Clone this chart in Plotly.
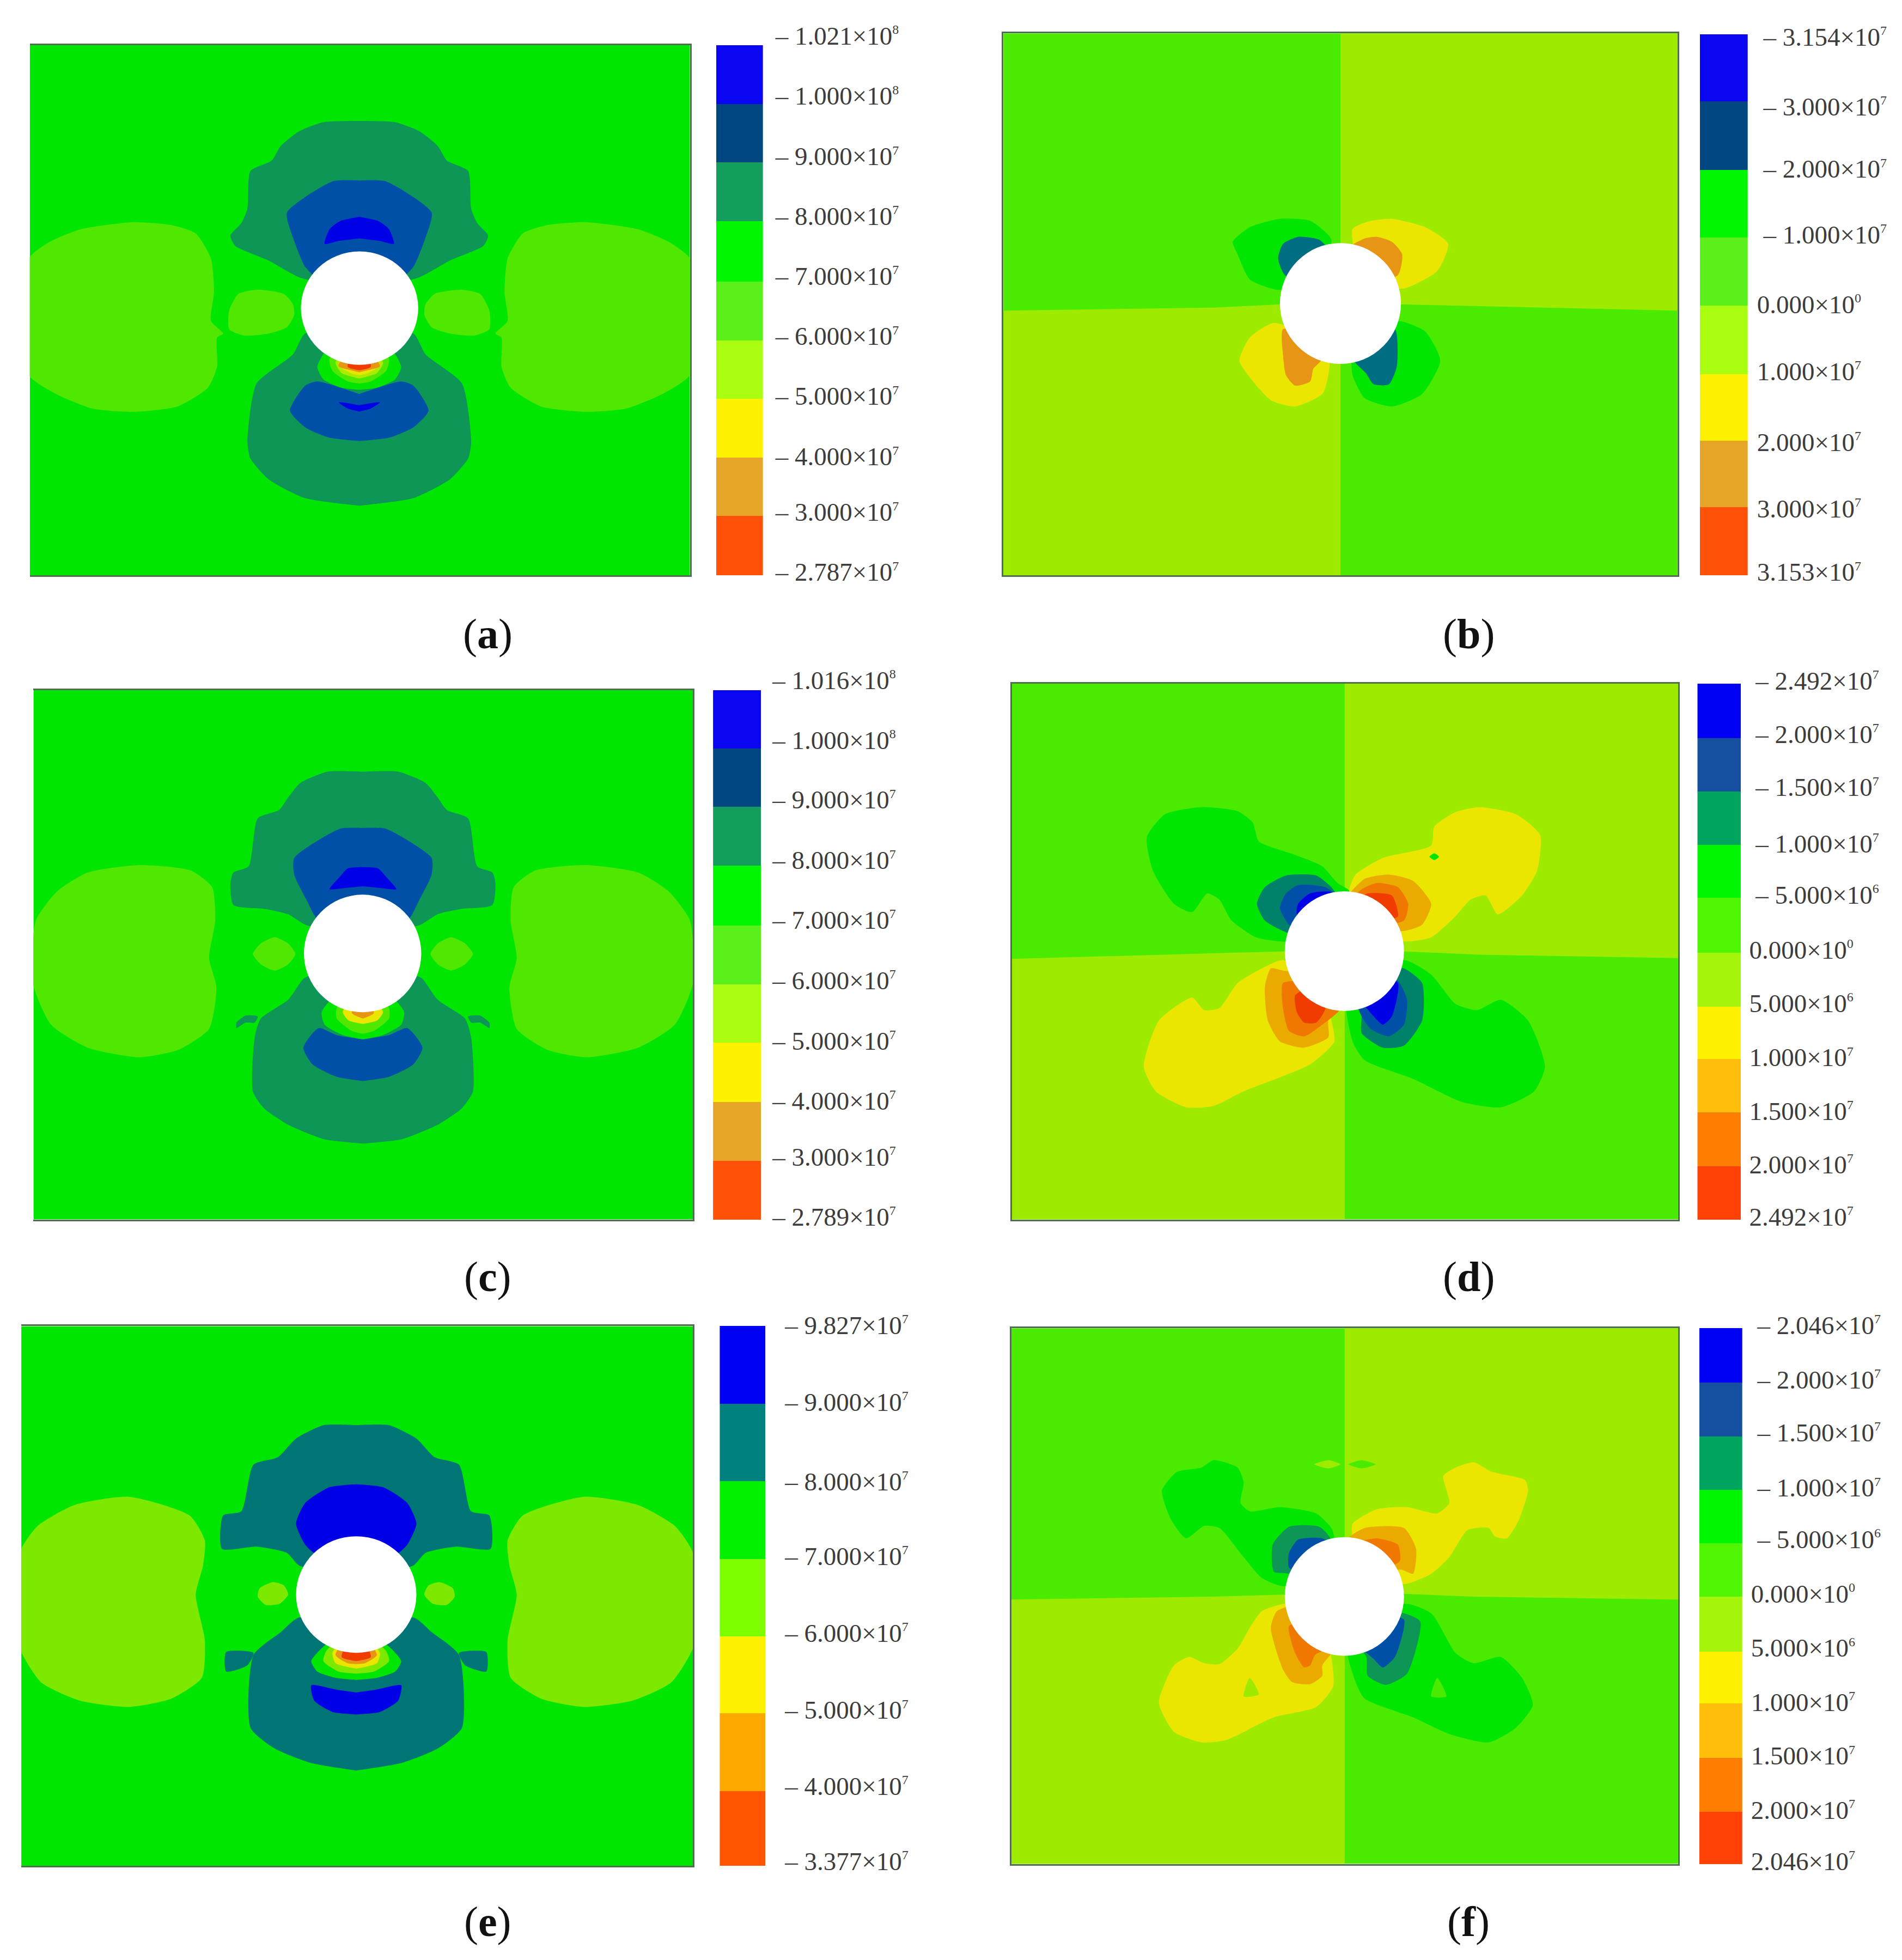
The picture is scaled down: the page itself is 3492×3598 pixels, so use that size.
'''

    Six FE stress contour panels with stepped legends

'''
import plotly.graph_objects as go

FONT = 'Liberation Serif'

# colours
BG_GREEN = '#00E600'
LOBE = '#50E800'
LOBE_E = '#7DE800'
QUAD_DARK = '#4BEB00'
QUAD_LIGHT = '#9EEB00'
TEAL = '#0E9656'
TEAL_E = '#007575'
TEAL_B = '#006E82'
TEAL_D = '#00826A'
BLUE = '#0050A8'
PURE = '#0000E6'
LIME = '#AAEB00'
YELLOW = '#EBE600'
ORANGE_L = '#EBAA00'
ORANGE = '#E69614'
ORANGE_D = '#F07800'
RED = '#F03C00'

# legend colours, top to bottom
BAR_9 = ['#0A05F0', '#004680', '#149E5E', '#00F500', '#5CF01A', '#AAFF10', '#FFF200', '#E5A526', '#FF5208']
BAR_8 = ['#0A05F0', '#004680', '#00F500', '#5CF01A', '#AAFF10', '#FFF200', '#E5A526', '#FF5208']
BAR_7 = ['#0000F5', '#00807F', '#00F000', '#7DFF00', '#FFF200', '#FFA800', '#FF5500']
BAR_10 = ['#0000F5', '#14509F', '#00A55F', '#00F500', '#50F500', '#A5F50A', '#FFF200', '#FFBE0A', '#FF7D00', '#FF4105']


def sci(m, e):
    return '%s×10<sup><span style="font-size:24px">%d</span></sup>' % (m, e)


# legend texts and where they sit, edges of the steps
A_LABELS = [sci('1.021', 8), sci('1.000', 8), sci('9.000', 7), sci('8.000', 7), sci('7.000', 7),
            sci('6.000', 7), sci('5.000', 7), sci('4.000', 7), sci('3.000', 7), sci('2.787', 7)]
A_LABEL_Y = [85, 230, 375, 518, 662, 806, 950, 1095, 1228, 1372]
A_EDGES = [108, 250, 390, 530, 675, 817, 957, 1098, 1238, 1380]

B_LABELS = [sci('3.154', 7), sci('3.000', 7), sci('2.000', 7), sci('1.000', 7), sci('0.000', 0),
            sci('1.000', 7), sci('2.000', 7), sci('3.000', 7), sci('3.153', 7)]
B_LABEL_Y = [88, 255, 405, 562, 730, 890, 1060, 1220, 1372]
B_EDGES = [82, 243, 408, 570, 733, 898, 1057, 1217, 1380]

C_LABELS = [sci('1.016', 8), sci('1.000', 8), sci('9.000', 7), sci('8.000', 7), sci('7.000', 7),
            sci('6.000', 7), sci('5.000', 7), sci('4.000', 7), sci('3.000', 7), sci('2.789', 7)]
C_LABEL_Y = [63, 207, 350, 495, 638, 783, 928, 1072, 1207, 1350]
C_EDGES = [87, 228, 367, 508, 652, 793, 933, 1075, 1217, 1357]

D_LABELS = [sci('2.492', 7), sci('2.000', 7), sci('1.500', 7), sci('1.000', 7), sci('5.000', 6),
            sci('0.000', 0), sci('5.000', 6), sci('1.000', 7), sci('1.500', 7), sci('2.000', 7), sci('2.492', 7)]
D_LABEL_Y = [65, 193, 320, 455, 578, 710, 838, 968, 1097, 1225, 1350]
D_EDGES = [72, 203, 330, 458, 585, 717, 847, 972, 1100, 1230, 1357]

E_LABELS = [sci('9.827', 7), sci('9.000', 7), sci('8.000', 7), sci('7.000', 7),
            sci('6.000', 7), sci('5.000', 7), sci('4.000', 7), sci('3.377', 7)]
E_LABEL_Y = [42, 227, 418, 597, 782, 967, 1150, 1330]
E_EDGES = [45, 232, 418, 605, 790, 975, 1162, 1342]

F_LABELS = [sci('2.046', 7), sci('2.000', 7), sci('1.500', 7), sci('1.000', 7), sci('5.000', 6),
            sci('0.000', 0), sci('5.000', 6), sci('1.000', 7), sci('1.500', 7), sci('2.000', 7), sci('2.046', 7)]
F_LABEL_Y = [42, 173, 300, 433, 557, 688, 818, 948, 1077, 1207, 1330]
F_EDGES = [50, 180, 310, 438, 567, 695, 827, 952, 1082, 1212, 1337]

# contour outlines (half outlines get mirrored about the hole axis)
A_TOP = [(591, 290), (650, 293), (690, 315), (720, 350), (735, 385), (770, 410), (775, 500), (785, 535), (803, 565), (795, 590), (740, 625), (690, 665), (591, 700)]
A_TOP_BLUE = [(591, 433), (635, 435), (710, 510), (700, 570), (680, 640), (650, 680), (591, 690)]
A_TOP_PURE = [(591, 520), (622, 530), (640, 550), (648, 585), (625, 578), (591, 572)]
A_BOT = [(591, 800), (680, 800), (700, 850), (760, 920), (775, 1060), (770, 1100), (740, 1150), (680, 1195), (591, 1213)]
A_BOT_BLUE = [(591, 945), (660, 915), (680, 925), (705, 985), (680, 1025), (640, 1050), (591, 1058)]
A_BOT_PURE = [(591, 972), (625, 965), (610, 980), (591, 987)]
A_RING1 = [(591, 800), (645, 840), (660, 880), (650, 910), (620, 930), (591, 935)]
A_RING2 = [(591, 800), (640, 860), (635, 890), (610, 915), (591, 920)]
A_RING3 = [(591, 800), (630, 870), (620, 895), (591, 908)]
A_RING4 = [(591, 800), (625, 875), (605, 895), (591, 900)]
A_RING5 = [(591, 800), (625, 878), (605, 888), (591, 893)]
A_RING6 = [(591, 800), (610, 880), (591, 888)]
A_LOBE = [(965, 533), (1050, 550), (1100, 580), (1135, 620), (1150, 760), (1135, 900), (1090, 945), (1030, 980), (965, 988), (890, 975), (840, 930), (825, 880), (825, 810), (815, 800), (835, 770), (830, 700), (835, 620), (860, 560), (900, 540)]
A_SMALL = [(700, 730), (715, 705), (760, 695), (790, 705), (805, 745), (805, 790), (780, 805), (740, 800), (710, 785), (698, 755)]

C_TOP = [(597, 283), (655, 283), (700, 310), (720, 345), (735, 375), (770, 395), (785, 510), (810, 525), (815, 550), (810, 603), (760, 612), (720, 625), (692, 650), (597, 680)]
C_TOP_BLUE = [(597, 418), (635, 420), (710, 490), (710, 530), (690, 590), (670, 640), (597, 650)]
C_TOP_PURE = [(597, 512), (622, 515), (635, 535), (652, 565), (625, 562), (597, 558)]
C_BOT = [(597, 780), (680, 770), (695, 780), (720, 830), (765, 875), (775, 920), (778, 1050), (760, 1090), (720, 1130), (660, 1165), (597, 1175)]
C_BOT_BLUE = [(597, 925), (640, 915), (670, 898), (695, 945), (680, 985), (640, 1015), (597, 1025)]
C_RING1 = [(597, 780), (650, 830), (665, 860), (660, 890), (630, 915), (597, 925)]
C_RING2 = [(597, 780), (640, 850), (640, 875), (615, 905), (597, 912)]
C_RING3 = [(597, 780), (630, 860), (620, 880), (597, 888)]
C_RING4 = [(597, 780), (615, 862), (597, 875)]
C_TAB = [(770, 870), (790, 868), (805, 885), (805, 898), (790, 885), (775, 885)]
C_LOBE = [(965, 507), (1050, 525), (1100, 570), (1135, 640), (1140, 790), (1110, 890), (1050, 945), (965, 968), (900, 950), (850, 900), (838, 800), (850, 730), (840, 640), (845, 560), (880, 520)]
C_SMALL = [(742, 680), (765, 695), (778, 720), (765, 745), (742, 760), (720, 745), (708, 720), (720, 695)]

E_TOP = [(586, 283), (640, 283), (685, 315), (715, 360), (755, 378), (775, 490), (805, 500), (807, 580), (750, 575), (700, 590), (680, 620), (586, 650)]
E_TOP_BLUE = [(586, 425), (630, 432), (670, 470), (685, 520), (670, 570), (655, 590), (586, 600)]
E_BOT = [(586, 780), (680, 745), (710, 780), (755, 835), (760, 1010), (720, 1060), (660, 1095), (586, 1113)]
E_TAB = [(755, 830), (800, 828), (800, 875), (765, 860)]
E_RING1 = [(586, 760), (640, 815), (660, 850), (650, 875), (620, 890), (586, 895)]
E_RING2 = [(586, 760), (635, 825), (640, 850), (615, 875), (586, 880)]
E_RING3 = [(586, 760), (625, 830), (620, 855), (586, 868)]
E_RING4 = [(586, 760), (620, 835), (600, 855), (586, 857)]
E_RING5 = [(586, 760), (610, 840), (586, 850)]
E_BOT_BLUE = [(586, 925), (620, 918), (660, 908), (655, 945), (625, 972), (586, 978)]
E_LOBE = [(960, 455), (1050, 475), (1110, 525), (1140, 590), (1145, 800), (1105, 900), (1040, 945), (960, 960), (890, 940), (840, 890), (835, 800), (850, 690), (838, 620), (835, 560), (860, 500)]
E_SMALL = [(723, 660), (745, 675), (748, 695), (735, 715), (712, 712), (698, 690), (705, 668)]

B_UR = [(640, 80), (1197, 80), (1197, 745), (980, 738), (740, 730), (640, 728)]
B_LL = [(83, 745), (430, 738), (540, 730), (640, 728), (640, 1380), (83, 1380)]
B_UL_GREEN = [(540, 525), (590, 530), (625, 575), (600, 680), (535, 695), (490, 670), (470, 610), (462, 580), (490, 545)]
B_UL_TEAL = [(570, 568), (605, 575), (620, 600), (600, 690), (548, 660), (537, 620), (545, 585)]
B_UR_YELLOW = [(725, 525), (780, 545), (818, 585), (800, 650), (745, 692), (680, 680), (660, 550), (690, 530)]
B_UR_ORANGE = [(700, 568), (725, 580), (742, 610), (735, 660), (680, 680), (650, 600), (680, 572)]
B_LL_YELLOW = [(530, 775), (620, 830), (620, 900), (610, 945), (565, 975), (525, 960), (490, 905), (473, 865), (490, 810)]
B_LL_ORANGE = [(545, 790), (600, 800), (610, 860), (595, 885), (590, 915), (565, 925), (550, 900), (545, 850)]
B_LR_GREEN = [(735, 770), (780, 795), (805, 865), (775, 945), (725, 975), (680, 955), (660, 900), (660, 850), (700, 800)]
B_LR_TEAL = [(730, 790), (733, 880), (720, 922), (695, 922), (682, 895), (660, 860), (680, 800)]

D_UR = [(647, 72), (1198, 72), (1198, 730), (870, 722), (745, 714), (647, 714)]
D_LL = [(97, 732), (450, 718), (547, 714), (647, 714), (647, 1357), (97, 1357)]
D_UL_GREEN = [(410, 368), (470, 378), (495, 405), (505, 450), (560, 480), (610, 510), (635, 550), (655, 570), (600, 690), (540, 690), (500, 680), (460, 640), (440, 590), (420, 575), (395, 620), (365, 600), (330, 520), (320, 440), (350, 385)]
D_UL_TEAL = [(550, 532), (600, 532), (625, 560), (640, 600), (580, 680), (545, 665), (515, 640), (502, 600), (515, 560)]
D_UL_BLUE = [(570, 555), (615, 560), (640, 590), (590, 670), (555, 650), (540, 610), (550, 575)]
D_UL_PURE = [(590, 575), (625, 572), (640, 600), (590, 650), (568, 625), (570, 600)]
D_UR_YELLOW = [(870, 368), (930, 385), (970, 435), (965, 520), (940, 580), (900, 625), (880, 580), (855, 590), (830, 630), (790, 680), (745, 690), (700, 660), (655, 570), (665, 530), (710, 490), (790, 460), (795, 415), (830, 380)]
D_UR_DOT = [(795, 479), (803, 487), (795, 495), (787, 487)]
D_UR_ORANGE1 = [(720, 530), (760, 545), (790, 600), (775, 650), (745, 665), (700, 660), (650, 590), (680, 540)]
D_UR_ORANGE2 = [(700, 550), (735, 560), (752, 600), (745, 640), (700, 650), (660, 590), (675, 565)]
D_UR_RED = [(685, 575), (725, 580), (735, 630), (700, 640), (660, 600)]
D_LL_YELLOW = [(385, 1088), (430, 1085), (480, 1050), (590, 985), (630, 930), (625, 880), (620, 840), (590, 780), (545, 735), (510, 755), (470, 790), (440, 850), (415, 855), (395, 825), (340, 880), (315, 990), (335, 1050)]
D_LL_ORANGE1 = [(525, 755), (545, 760), (600, 770), (640, 850), (620, 880), (620, 920), (580, 945), (540, 930), (520, 880), (515, 800)]
D_LL_ORANGE2 = [(545, 790), (600, 790), (640, 850), (610, 890), (580, 918), (555, 905), (545, 850)]
D_LL_RED = [(565, 820), (590, 800), (615, 850), (600, 885), (580, 885), (568, 860)]
D_LR_GREEN = [(745, 735), (790, 770), (830, 840), (865, 855), (905, 830), (950, 880), (978, 990), (960, 1050), (905, 1088), (840, 1075), (760, 1020), (680, 975), (660, 930), (650, 800)]
D_LR_TEAL = [(745, 755), (775, 790), (775, 880), (745, 940), (710, 945), (675, 910), (675, 860), (660, 800), (700, 750)]
D_LR_BLUE = [(735, 785), (750, 830), (745, 890), (720, 918), (690, 900), (675, 870), (660, 800), (700, 770)]
D_LR_PURE = [(735, 790), (725, 870), (710, 890), (695, 870), (665, 810), (700, 770)]

F_UR = [(647, 50), (1198, 50), (1198, 702), (860, 695), (745, 688), (647, 690)]
F_LL = [(96, 702), (430, 695), (548, 690), (647, 690), (647, 1337), (96, 1337)]
F_UL_GREEN = [(430, 367), (470, 385), (480, 420), (475, 470), (490, 490), (540, 480), (600, 495), (625, 530), (630, 555), (610, 640), (545, 670), (510, 650), (480, 600), (440, 530), (415, 525), (385, 555), (360, 510), (345, 440), (370, 395), (410, 385)]
F_UL_TEAL = [(555, 527), (605, 527), (625, 560), (600, 680), (555, 640), (530, 635), (528, 570)]
F_UL_BLUE = [(570, 558), (610, 555), (630, 580), (590, 650), (555, 625), (555, 590)]
F_UR_YELLOW = [(860, 372), (890, 395), (945, 415), (950, 440), (935, 510), (915, 555), (895, 550), (885, 530), (850, 535), (820, 600), (790, 640), (745, 665), (700, 640), (660, 550), (660, 520), (700, 485), (750, 480), (800, 495), (820, 470), (810, 405), (830, 385)]
F_UR_ORANGE1 = [(680, 530), (745, 530), (765, 580), (760, 640), (740, 630), (680, 640), (650, 560)]
F_UR_ORANGE2 = [(700, 555), (735, 570), (738, 610), (700, 630), (660, 570)]
F_LL_YELLOW = [(410, 1045), (450, 1040), (530, 985), (600, 960), (628, 910), (620, 800), (600, 720), (548, 712), (510, 730), (490, 770), (470, 820), (440, 857), (415, 855), (390, 840), (365, 860), (340, 950), (365, 1020)]
F_LL_SPOT = [(490, 890), (505, 930), (480, 935)]
F_LL_ORANGE1 = [(535, 730), (590, 710), (640, 800), (610, 860), (610, 885), (590, 905), (560, 900), (545, 870), (525, 770)]
F_LL_ORANGE2 = [(555, 765), (600, 760), (630, 810), (598, 835), (590, 860), (580, 865), (565, 830)]
F_LR_GREEN = [(745, 712), (790, 735), (830, 830), (860, 855), (905, 840), (940, 890), (958, 955), (930, 1010), (885, 1045), (820, 1025), (760, 985), (680, 940), (665, 900), (650, 800)]
F_LR_SPOT = [(800, 890), (815, 935), (790, 935)]
F_LR_TEAL = [(745, 735), (772, 755), (750, 880), (715, 907), (685, 885), (683, 840), (660, 790), (700, 730)]
F_LR_BLUE = [(745, 750), (730, 840), (710, 865), (695, 845), (665, 800), (700, 740)]
F_TOP_SPOT1 = [(620, 367), (640, 377), (620, 387), (597, 377)]
F_TOP_SPOT2 = [(675, 367), (698, 377), (675, 387), (653, 377)]


def mirror(half, cx):
    return half + [(2 * cx - x, y) for x, y in reversed(half)]


def flip(pts, cx):
    return [(2 * cx - x, y) for x, y in pts]


def stress_regions(cx, top, top_blue, top_pure, bot, bot_blue, bot_pure, rings, lobe, small, extra, teal, lobe_col, blue):
    regs = [(lobe_col, lobe), (lobe_col, flip(lobe, cx)), (lobe_col, small), (lobe_col, flip(small, cx)),
            (teal, mirror(top, cx)), (teal, mirror(bot, cx))]
    for e in extra:
        regs += [(teal, e), (teal, flip(e, cx))]
    regs += [(blue, mirror(top_blue, cx))]
    if top_pure:
        regs += [(PURE, mirror(top_pure, cx))]
    regs += [(blue, mirror(bot_blue, cx))]
    if bot_pure:
        regs += [(PURE, mirror(bot_pure, cx))]
    for col, ring in rings:
        regs += [(col, mirror(ring, cx))]
    return regs


A_REGIONS = stress_regions(591, A_TOP, A_TOP_BLUE, A_TOP_PURE, A_BOT, A_BOT_BLUE, A_BOT_PURE,
                           [(BG_GREEN, A_RING1), (LOBE, A_RING2), (LIME, A_RING3), (YELLOW, A_RING4), (ORANGE, A_RING5), (RED, A_RING6)],
                           A_LOBE, A_SMALL, [], TEAL, LOBE, BLUE)
C_REGIONS = stress_regions(597, C_TOP, C_TOP_BLUE, C_TOP_PURE, C_BOT, C_BOT_BLUE, None,
                           [(BG_GREEN, C_RING1), (LOBE, C_RING2), (YELLOW, C_RING3), (ORANGE, C_RING4)],
                           C_LOBE, C_SMALL, [C_TAB], TEAL, LOBE, BLUE)
E_REGIONS = stress_regions(586, E_TOP, E_TOP_BLUE, None, E_BOT, E_BOT_BLUE, None,
                           [(BG_GREEN, E_RING1), (LOBE_E, E_RING2), (YELLOW, E_RING3), (ORANGE, E_RING4), (RED, E_RING5)],
                           E_LOBE, E_SMALL, [E_TAB], TEAL_E, LOBE_E, PURE)
B_REGIONS = [(BG_GREEN, B_UL_GREEN), (TEAL_B, B_UL_TEAL), (YELLOW, B_UR_YELLOW), (ORANGE, B_UR_ORANGE),
             (YELLOW, B_LL_YELLOW), (ORANGE, B_LL_ORANGE), (BG_GREEN, B_LR_GREEN), (TEAL_B, B_LR_TEAL)]
D_REGIONS = [(BG_GREEN, D_UL_GREEN), (TEAL_D, D_UL_TEAL), (BLUE, D_UL_BLUE), (PURE, D_UL_PURE),
             (YELLOW, D_UR_YELLOW), (BG_GREEN, D_UR_DOT), (ORANGE_L, D_UR_ORANGE1), (ORANGE_D, D_UR_ORANGE2), (RED, D_UR_RED),
             (YELLOW, D_LL_YELLOW), (ORANGE_L, D_LL_ORANGE1), (ORANGE_D, D_LL_ORANGE2), (RED, D_LL_RED),
             (BG_GREEN, D_LR_GREEN), (TEAL_D, D_LR_TEAL), (BLUE, D_LR_BLUE), (PURE, D_LR_PURE)]
F_REGIONS = [(QUAD_LIGHT, F_TOP_SPOT1), (QUAD_DARK, F_TOP_SPOT2),
             (BG_GREEN, F_UL_GREEN), (TEAL, F_UL_TEAL), (BLUE, F_UL_BLUE),
             (YELLOW, F_UR_YELLOW), (ORANGE_L, F_UR_ORANGE1), (ORANGE_D, F_UR_ORANGE2),
             (YELLOW, F_LL_YELLOW), (QUAD_LIGHT, F_LL_SPOT), (ORANGE_L, F_LL_ORANGE1), (ORANGE_D, F_LL_ORANGE2),
             (BG_GREEN, F_LR_GREEN), (QUAD_DARK, F_LR_SPOT), (TEAL, F_LR_TEAL), (BLUE, F_LR_BLUE)]

# the page keeps an 8px body margin, so the figure is smaller by that much
W, H = 3492, 3598
OFF = 8
READ = 1568.0  # picture units per crop side

# crop = x0, y0, w, h that the outlines were read in; plot = l, r, t, b; bar = l, r
panels = [
    dict(tag='a', crop=(0, 0, 1750, 1200), plot=(49, 1135, 108, 1380), bar=(1178, 1255), hole=(495, 688, 603, 875), base=BG_GREEN, quads=[],
         regions=A_REGIONS, colors=BAR_9, edges=A_EDGES, labels=A_LABELS, label_y=A_LABEL_Y, dashes=10, standoff=22, pad='', side=False, cap=(895, 1163)),
    dict(tag='b', crop=(1750, 0, 1742, 1200), plot=(83, 1197, 80, 1380), bar=(1234, 1313), hole=(540, 740, 583, 873), base=QUAD_DARK, quads=[B_UR, B_LL],
         regions=B_REGIONS, colors=BAR_8, edges=B_EDGES, labels=B_LABELS, label_y=B_LABEL_Y, dashes=4, standoff=16, pad='\u00a0', side=True, cap=(2696, 1163)),
    dict(tag='c', crop=(0, 1200, 1750, 1200), plot=(55, 1140, 87, 1357), bar=(1173, 1252), hole=(500, 693, 578, 860), base=BG_GREEN, quads=[],
         regions=C_REGIONS, colors=BAR_9, edges=C_EDGES, labels=C_LABELS, label_y=C_LABEL_Y, dashes=10, standoff=20, pad='', side=False, cap=(895, 2343)),
    dict(tag='d', crop=(1750, 1200, 1742, 1200), plot=(97, 1198, 72, 1357), bar=(1230, 1302), hole=(548, 745, 570, 857), base=QUAD_DARK, quads=[D_UR, D_LL],
         regions=D_REGIONS, colors=BAR_10, edges=D_EDGES, labels=D_LABELS, label_y=D_LABEL_Y, dashes=5, standoff=14, pad='\u00a0', side=True, cap=(2696, 2343)),
    dict(tag='e', crop=(0, 2400, 1750, 1198), plot=(35, 1140, 45, 1342), bar=(1184, 1259), hole=(487, 685, 550, 830), base=BG_GREEN, quads=[],
         regions=E_REGIONS, colors=BAR_7, edges=E_EDGES, labels=E_LABELS, label_y=E_LABEL_Y, dashes=8, standoff=35, pad='', side=False, cap=(895, 3527)),
    dict(tag='f', crop=(1750, 2400, 1742, 1198), plot=(96, 1198, 50, 1337), bar=(1233, 1304), hole=(548, 745, 552, 837), base=QUAD_DARK, quads=[F_UR, F_LL],
         regions=F_REGIONS, colors=BAR_10, edges=F_EDGES, labels=F_LABELS, label_y=F_LABEL_Y, dashes=5, standoff=15, pad='\u00a0', side=True, cap=(2696, 3527)),
]


def fx(px):
    return (px - OFF) / (W - OFF)


def fy(px):
    return 1 - (px - OFF) / (H - OFF)


def add_poly(fig, pts, color, n, smooth=True):
    xs = [p[0] for p in pts] + [pts[0][0]]
    ys = [p[1] for p in pts] + [pts[0][1]]
    line = dict(width=0, color=color)
    if smooth:
        line.update(shape='spline', smoothing=0.6)
    fig.add_trace(go.Scatter(x=xs, y=ys, mode='lines', fill='toself', fillcolor=color, line=line,
                             xaxis='x%d' % n, yaxis='y%d' % n, hoverinfo='skip', showlegend=False))


fig = go.Figure()
layout = {}
shapes = []
annotations = []

for i, p in enumerate(panels):
    x0, y0, cw, ch = p['crop']
    sx, sy = cw / READ, ch / READ
    l, r, t, b = p['plot']
    n_plot, n_bar = 2 * i + 1, 2 * i + 2

    # contour panel
    add_poly(fig, [(l, t), (r, t), (r, b), (l, b)], p['base'], n_plot, smooth=False)
    for q in p['quads']:
        add_poly(fig, q, QUAD_LIGHT, n_plot, smooth=False)
    for col, pts in p['regions']:
        add_poly(fig, pts, col, n_plot)
    h0, h1, h2, h3 = p['hole']
    shapes.append(dict(type='circle', xref='x%d' % n_plot, yref='y%d' % n_plot, x0=h0, x1=h1, y0=h2, y1=h3,
                       fillcolor='white', line_width=0))
    layout['xaxis%d' % n_plot] = dict(domain=[fx(x0 + l * sx), fx(x0 + r * sx)], range=[l, r], anchor='y%d' % n_plot,
                                      showgrid=False, zeroline=False, showticklabels=False, ticks='',
                                      showline=True, linecolor='#4F6F4F', linewidth=3, mirror=True)
    layout['yaxis%d' % n_plot] = dict(domain=[fy(y0 + b * sy), fy(y0 + t * sy)], range=[b, t], anchor='x%d' % n_plot,
                                      showgrid=False, zeroline=False, showticklabels=False, ticks='',
                                      showline=True, linecolor='#4F6F4F', linewidth=3, side='right', mirror=p['side'])

    # stepped legend, the axis covers the whole crop so the outer labels stay on it
    for j, col in enumerate(p['colors']):
        fig.add_trace(go.Bar(x=[0], y=[p['edges'][j + 1] - p['edges'][j]], base=[p['edges'][j]], width=[1],
                             marker=dict(color=col, line_width=0), xaxis='x%d' % n_bar, yaxis='y%d' % n_bar,
                             hoverinfo='skip', showlegend=False))
    ticktext = []
    for j, lab in enumerate(p['labels']):
        ticktext.append(p['pad'] + '\u2013\u00a0' + lab if j < p['dashes'] else lab)
    bl, br = p['bar']
    top_px = max(y0, OFF)
    layout['xaxis%d' % n_bar] = dict(domain=[fx(x0 + bl * sx), fx(x0 + br * sx)], range=[-0.5, 0.5], anchor='y%d' % n_bar,
                                     visible=False, fixedrange=True)
    layout['yaxis%d' % n_bar] = dict(domain=[fy(y0 + ch), fy(top_px)], range=[READ, (top_px - y0) / sy], anchor='x%d' % n_bar,
                                     side='right', showgrid=False, zeroline=False, showline=False, ticks='',
                                     tickmode='array', tickvals=p['label_y'], ticktext=ticktext, tickangle=0,
                                     ticklabelstandoff=p['standoff'], tickfont=dict(family=FONT, size=47, color='#3C3C3C'))

    annotations.append(dict(text='(<b>%s</b>)' % p['tag'], x=fx(p['cap'][0]), y=fy(p['cap'][1]), xref='paper', yref='paper',
                            xanchor='center', yanchor='middle', showarrow=False, font=dict(family=FONT, size=78, color='#111111')))

layout.update(width=W - OFF, height=H - OFF, margin=dict(l=0, r=0, t=0, b=0), paper_bgcolor='white', plot_bgcolor='white',
              barmode='overlay', bargap=0, showlegend=False, shapes=shapes, annotations=annotations)
fig.update_layout(**layout)

fig.write_html("out.html")
